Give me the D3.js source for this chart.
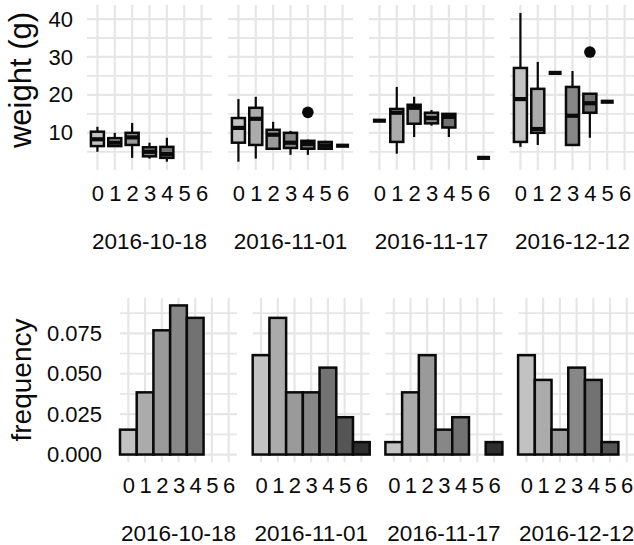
<!DOCTYPE html>
<html>
<head>
<meta charset="utf-8">
<script src="https://cdn.jsdelivr.net/npm/d3@7"></script>
<style>
    body { margin: 0; background: #fff; }
    svg { display: block; font-family: "Liberation Sans", Arial, sans-serif; }
    .grid line { stroke: #e6e6e6; }
    .axis text { fill: #0a0a0a; }
</style>
</head>
<body>
<svg id="chart" width="634" height="545"></svg>
<script>
'use strict';

var dates = ["2016-10-18", "2016-11-01", "2016-11-17", "2016-12-12"]
var levels = [0, 1, 2, 3, 4, 5, 6]
var greys = ["#c2c2c2", "#ababab", "#9a9a9a", "#878787", "#727272", "#555555", "#2e2e2e"]

// boxplot stats: [level, lower whisker, q1, median, q3, upper whisker]
var box1018 = [[0, 5.0, 6.5, 8.3, 10.3, 11.6], [1, 6.3, 6.5, 7.4, 8.6, 10.0],
    [2, 3.4, 6.8, 8.8, 10.0, 12.6], [3, 3.2, 3.8, 5.0, 6.2, 7.4], [4, 2.4, 3.4, 4.4, 6.3, 8.7]]
var box1101 = [[0, 2.4, 7.4, 11.3, 13.9, 18.9], [1, 3.2, 6.8, 13.7, 16.6, 19.5],
    [2, 5.5, 5.8, 9.5, 10.8, 12.9], [3, 4.2, 6.0, 7.4, 10.0, 10.5], [4, 4.2, 5.8, 7.1, 7.9, 8.2],
    [5, 5.5, 5.8, 6.6, 7.6, 7.9], [6, 6.6, 6.6, 6.6, 6.6, 6.6]]
var box1117 = [[0, 13.2, 13.2, 13.2, 13.2, 13.2], [1, 4.5, 7.6, 15.3, 16.3, 22.1],
    [2, 8.9, 12.4, 16.6, 17.4, 19.5], [3, 11.9, 12.5, 13.9, 15.3, 16.0], [4, 8.9, 11.4, 14.2, 15.0, 15.0],
    [6, 3.4, 3.4, 3.4, 3.4, 3.4]]
var box1212 = [[0, 6.3, 7.6, 18.9, 27.1, 41.6], [1, 6.8, 10.0, 11.0, 21.6, 28.7],
    [2, 25.8, 25.8, 25.8, 25.8, 25.8], [3, 6.8, 6.8, 14.5, 22.1, 26.3], [4, 8.7, 15.3, 17.8, 20.3, 20.3],
    [5, 18.2, 18.2, 18.2, 18.2, 18.2]]
var boxStats = [box1018, box1101, box1117, box1212]

// outliers: [date index, level, weight]
var outliers = [[1, 4, 15.4], [3, 4, 31.3]]

// relative frequency per level (0..6)
var freq1018 = [0.0154, 0.0385, 0.0769, 0.0923, 0.0846, 0, 0]
var freq1101 = [0.0615, 0.0846, 0.0385, 0.0385, 0.0538, 0.0231, 0.0077]
var freq1117 = [0.0077, 0.0385, 0.0615, 0.0154, 0.0231, 0, 0.0077]
var freq1212 = [0.0615, 0.0462, 0.0154, 0.0538, 0.0462, 0.0077, 0]
var freqs = [freq1018, freq1101, freq1117, freq1212]

var weightTicks = [10, 20, 30, 40]
var weightMinor = [5, 15, 25, 35]
var freqTicks = [0, 0.025, 0.05, 0.075]
var freqMinor = [0.0125, 0.0375, 0.0625, 0.0875]

var svg = d3.select("#chart")

var topRow = { left: 87, step: 141, width: 125, y0: 5, y1: 170 }
var botRow = { left: 120, step: 132.7, width: 117, y0: 298, y1: 462 }

var xTop = d3.scaleLinear().domain([-0.6, 6.6]).range([0, topRow.width])
var yTop = d3.scaleLinear().domain([0.2, 43.7]).range([topRow.y1, topRow.y0])
var xBot = d3.scaleLinear().domain([-0.5, 6.5]).range([0, botRow.width])
var yBot = d3.scaleLinear().domain([-0.00462, 0.0969]).range([botRow.y1, botRow.y0])

function drawGrid(g, x, y, majors, minors, lay) {
    var grid = g.append("g").attr("class", "grid")
    grid.selectAll(".minor").data(minors).enter().append("line")
        .attr("x1", 0).attr("x2", lay.width)
        .attr("y1", function(d) { return y(d); })
        .attr("y2", function(d) { return y(d); })
        .attr("stroke-width", 1.8)
    grid.selectAll(".major").data(majors).enter().append("line")
        .attr("x1", 0).attr("x2", lay.width)
        .attr("y1", function(d) { return y(d); })
        .attr("y2", function(d) { return y(d); })
        .attr("stroke-width", 2.2)
    grid.selectAll(".vert").data(levels).enter().append("line")
        .attr("x1", function(d) { return x(d); })
        .attr("x2", function(d) { return x(d); })
        .attr("y1", lay.y0).attr("y2", lay.y1)
        .attr("stroke-width", 2.2)
}

function drawXAxis(g, x, lay, label) {
    var ax = g.append("g").attr("class", "axis")
        .attr("transform", "translate(0," + lay.y1 + ")")
        .call(d3.axisBottom(x).tickValues(levels).tickSize(0).tickPadding(15)
            .tickFormat(d3.format("d")))
    ax.select(".domain").remove()
    ax.selectAll("text").attr("font-size", 22)
    g.append("text")
        .attr("x", lay.width / 2)
        .attr("y", lay.y1 + 79)
        .attr("text-anchor", "middle")
        .attr("font-size", 22.5)
        .attr("fill", "#0a0a0a")
        .text(label)
}

// top row: weight boxplots
dates.forEach(function(date, i) {
    var g = svg.append("g").attr("transform", "translate(" + (topRow.left + i * topRow.step) + ",0)")
    drawGrid(g, xTop, yTop, weightTicks, weightMinor, topRow)

    var bw = 0.75
    var boxes = g.selectAll(".box").data(boxStats[i]).enter().append("g")
    boxes.append("line")
        .attr("x1", function(d) { return xTop(d[0]); })
        .attr("x2", function(d) { return xTop(d[0]); })
        .attr("y1", function(d) { return yTop(d[1]); })
        .attr("y2", function(d) { return yTop(d[5]); })
        .attr("stroke", "#0a0a0a").attr("stroke-width", 2.2)
    boxes.append("rect")
        .attr("x", function(d) { return xTop(d[0] - bw / 2); })
        .attr("width", xTop(bw) - xTop(0))
        .attr("y", function(d) { return yTop(d[4]); })
        .attr("height", function(d) { return yTop(d[2]) - yTop(d[4]); })
        .attr("fill", function(d) { return greys[d[0]]; })
        .attr("stroke", "#0a0a0a").attr("stroke-width", 2.5)
    boxes.append("line")
        .attr("x1", function(d) { return xTop(d[0] - bw / 2); })
        .attr("x2", function(d) { return xTop(d[0] + bw / 2); })
        .attr("y1", function(d) { return yTop(d[3]); })
        .attr("y2", function(d) { return yTop(d[3]); })
        .attr("stroke", "#0a0a0a").attr("stroke-width", 4.2)

    g.selectAll(".outlier").data(outliers.filter(function(d) { return d[0] === i; }))
        .enter().append("circle")
        .attr("cx", function(d) { return xTop(d[1]); })
        .attr("cy", function(d) { return yTop(d[2]); })
        .attr("r", 5.8)
        .attr("fill", "#0a0a0a")

    drawXAxis(g, xTop, topRow, date)

    if (i === 0) {
        var ay = g.append("g").attr("class", "axis")
            .call(d3.axisLeft(yTop).tickValues(weightTicks).tickSize(0).tickPadding(14))
        ay.select(".domain").remove()
        ay.selectAll("text").attr("font-size", 22)
    }
})

// bottom row: frequency bars
dates.forEach(function(date, i) {
    var g = svg.append("g").attr("transform", "translate(" + (botRow.left + i * botRow.step) + ",0)")
    drawGrid(g, xBot, yBot, freqTicks, freqMinor, botRow)

    var bars = levels.map(function(l) { return [l, freqs[i][l]]; })
        .filter(function(d) { return d[1] > 0; })
    g.selectAll(".bar").data(bars).enter().append("rect")
        .attr("x", function(d) { return xBot(d[0] - 0.5); })
        .attr("width", xBot(1) - xBot(0))
        .attr("y", function(d) { return yBot(d[1]); })
        .attr("height", function(d) { return yBot(0) - yBot(d[1]); })
        .attr("fill", function(d) { return greys[d[0]]; })
        .attr("stroke", "#0a0a0a").attr("stroke-width", 2.5)

    drawXAxis(g, xBot, botRow, date)

    if (i === 0) {
        var ay = g.append("g").attr("class", "axis")
            .call(d3.axisLeft(yBot).tickValues(freqTicks).tickSize(0).tickPadding(18)
                .tickFormat(d3.format(".3f")))
        ay.select(".domain").remove()
        ay.selectAll("text").attr("font-size", 22)
    }
})

// axis titles
svg.append("text")
    .attr("transform", "translate(31,80) rotate(-90)")
    .attr("text-anchor", "middle")
    .attr("font-size", 31)
    .attr("fill", "#0a0a0a")
    .text("weight (g)")

svg.append("text")
    .attr("transform", "translate(31,380) rotate(-90)")
    .attr("text-anchor", "middle")
    .attr("font-size", 28)
    .attr("fill", "#0a0a0a")
    .text("frequency")
</script>
</body>
</html>
